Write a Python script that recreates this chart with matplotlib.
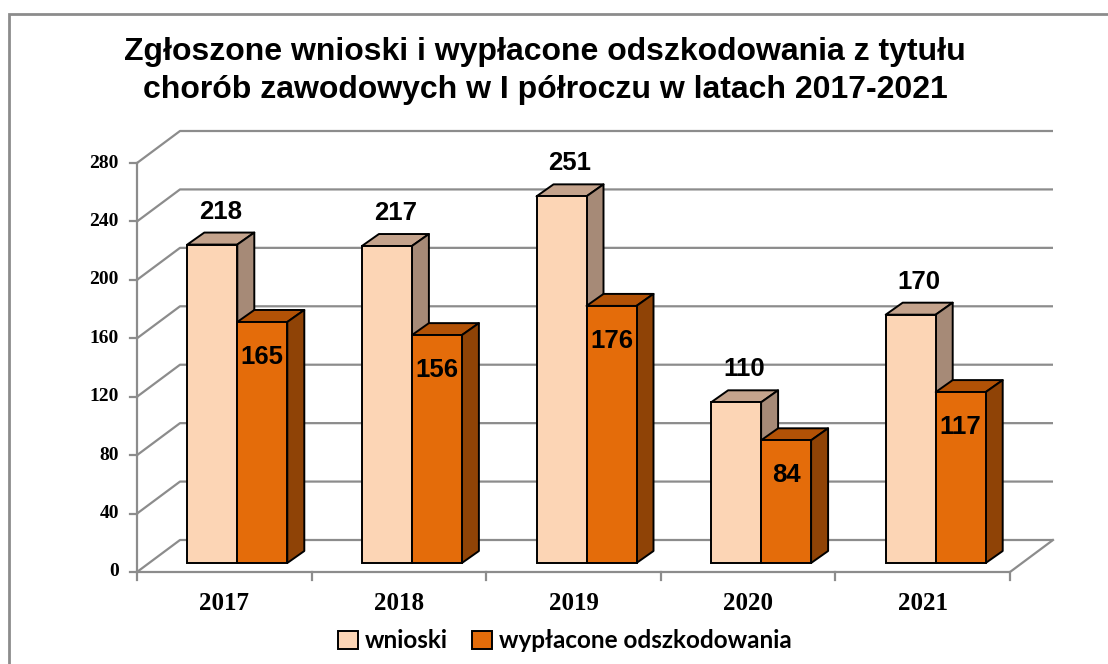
import matplotlib
matplotlib.use("Agg")
import matplotlib.pyplot as plt
from matplotlib.patches import Polygon, Patch, Rectangle

# ---- data ----
years = ["2017", "2018", "2019", "2020", "2021"]
wnioski = [218, 217, 251, 110, 170]
wyplacone = [165, 156, 176, 84, 117]
series_names = ["wnioski", "wypłacone odszkodowania"]
y_ticks = [0, 40, 80, 120, 160, 200, 240, 280]
title = "Zgłoszone wnioski i wypłacone odszkodowania z tytułu\nchorób zawodowych w I półroczu w latach 2017-2021"

# ---- styling ----
W, H = 1108, 664
fig = plt.figure(figsize=(W / 100, H / 100), dpi=100)
fig.patch.set_facecolor("white")

def fx(px):
    return px / W

def fy(py):
    return 1 - py / H

L, R, B, T = 137, 1010, 572, 163
ax = fig.add_axes([fx(L), fy(B), (R - L) / W, (B - T) / H])
n = len(years)
ax.set_xlim(-0.5, n - 0.5)
ax.set_ylim(0, 280)
ax.axis("off")

sx = (R - L) / n          # px per category unit
sy = (B - T) / 280.0      # px per value unit

# 3D offsets (px -> data)
wall_dx, wall_dy = 43 / sx, 32 / sy
off_dx, off_dy = 13 / sx, 9 / sy
dep_dx, dep_dy = 17 / sx, 12 / sy
bw = 50 / sx

grid_c = "#8c8c8c"
x0 = -0.5
x1 = n - 0.5
for t in y_ticks:
    ax.plot([x0, x0 + wall_dx, x1 + wall_dx], [t, t + wall_dy, t + wall_dy],
            color=grid_c, lw=1.6, clip_on=False, zorder=1, solid_capstyle="butt")
ax.plot([x0, x1, x1 + wall_dx], [0, 0, wall_dy], color=grid_c, lw=1.6, clip_on=False, zorder=1)
ax.plot([x0, x0], [0, 280], color=grid_c, lw=1.6, clip_on=False, zorder=1)
for t in y_ticks:
    ax.plot([x0 - 7 / sx, x0], [t, t], color=grid_c, lw=1.6, clip_on=False, zorder=1)
    ax.text(x0 - 18 / sx, t, str(t), ha="right", va="center", fontsize=14,
            fontweight="bold", family="Liberation Serif")
for k in range(n + 1):
    xx = -0.5 + k
    ax.plot([xx, xx], [0, -8 / sy], color=grid_c, lw=1.6, clip_on=False, zorder=1)
for i, yr in enumerate(years):
    ax.text(i, -32 / sy, yr, ha="center", va="center", fontsize=18,
            fontweight="bold", family="Liberation Serif")

styles = [
    dict(front="#fcd5b5", top="#c4a38c", side="#a68a77", z=3),
    dict(front="#e46c0a", top="#b25206", side="#8f4306", z=4),
]

xs_w = [i - bw + off_dx for i in range(n)]
xs_o = [i + off_dx for i in range(n)]

for vals, xs, st in [(wnioski, xs_w, styles[0]), (wyplacone, xs_o, styles[1])]:
    ax.bar(xs, vals, width=bw, bottom=off_dy, align="edge", color=st["front"],
           edgecolor="black", linewidth=1.4, clip_on=False, zorder=st["z"] + 0.2)
    for xl, v in zip(xs, vals):
        top = v + off_dy
        xr = xl + bw
        ax.add_patch(Polygon([(xl, top), (xr, top), (xr + dep_dx, top + dep_dy),
                              (xl + dep_dx, top + dep_dy)], closed=True,
                             facecolor=st["top"], edgecolor="black", lw=1.4,
                             clip_on=False, zorder=st["z"] + 0.1, joinstyle="round"))
        ax.add_patch(Polygon([(xr, off_dy), (xr, top), (xr + dep_dx, top + dep_dy),
                              (xr + dep_dx, off_dy + dep_dy)], closed=True,
                             facecolor=st["side"], edgecolor="black", lw=1.4,
                             clip_on=False, zorder=st["z"] + 0.1, joinstyle="round"))

for xl, v in zip(xs_w, wnioski):
    ax.text(xl + bw / 2 + dep_dx / 2, v + off_dy + dep_dy + 9 / sy, str(v),
            ha="center", va="bottom", fontsize=18.5, fontweight="bold",
            family="Liberation Sans", zorder=6)
for xl, v in zip(xs_o, wyplacone):
    ax.text(xl + bw / 2, v + off_dy - 35 / sy, str(v),
            ha="center", va="center", fontsize=18.5, fontweight="bold",
            family="Liberation Sans", zorder=6)

fig.text(fx(545), fy(71), title, ha="center", va="center", fontsize=23,
         fontweight="bold", family="Liberation Sans", linespacing=1.32)

handles = [Patch(facecolor=styles[0]["front"], edgecolor="black", lw=1.4),
           Patch(facecolor=styles[1]["front"], edgecolor="black", lw=1.4)]
fig.legend(handles, series_names, loc="center", bbox_to_anchor=(fx(565), fy(641)),
           ncol=2, frameon=False, handlelength=0.8, handleheight=0.8,
           handletextpad=0.3, columnspacing=1.0,
           prop=dict(family="Lato", weight="bold", size=17.5))

fig.add_artist(Rectangle((fx(8.5), fy(700)), 1.2, fy(13.5) - fy(700),
                         transform=fig.transFigure, fill=False,
                         edgecolor="#8c8c8c", lw=2))

fig.savefig("out.png", dpi=100)
